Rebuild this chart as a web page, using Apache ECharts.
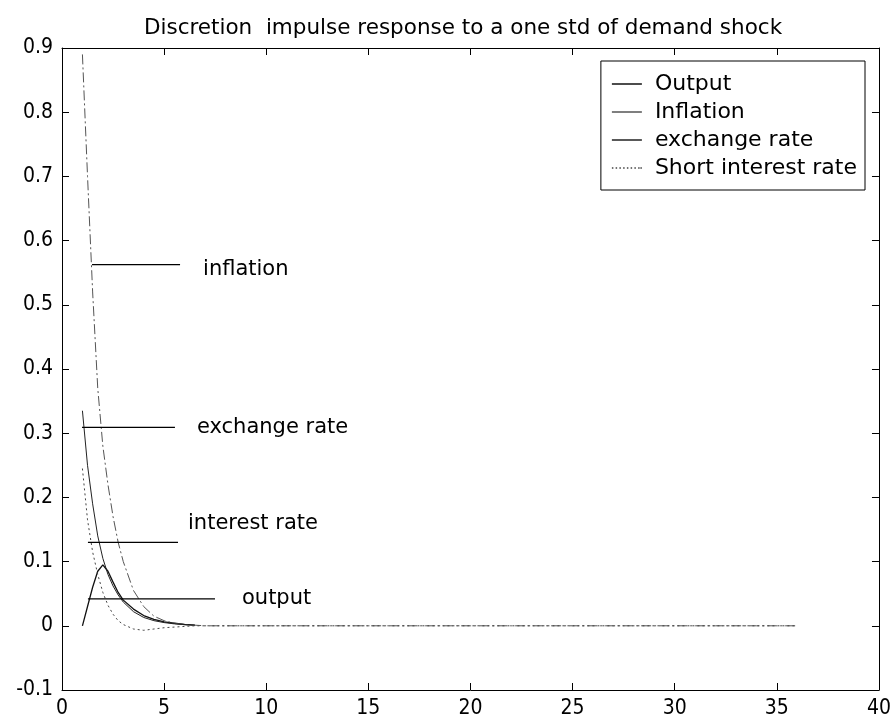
<!DOCTYPE html>
<html><head><meta charset="utf-8">
<script src="https://cdn.jsdelivr.net/npm/echarts/dist/echarts.min.js"></script>
<style>html,body{margin:0;padding:0;background:#fff}#c{width:894px;height:725px}</style>
</head><body><div id="c"></div>
<script>
const titleText = 'Discretion  impulse response to a one std of demand shock';
const seriesNames = ['Output', 'Inflation', 'exchange rate', 'Short interest rate'];
const periods = [1,1.25,1.5,1.75,2,2.25,2.5,2.75,3,3.5,4,4.5,5,5.5,6,6.5,7,
  8,9,10,11,12,13,14,15,16,17,18,19,20,21,22,23,24,25,26,27,28,29,30,31,32,33,34,35,36];
// output and exchange rate are only visible up to about t = 6.5 in the picture
const outputVals = [0,0.03,0.06,0.085,0.095,0.085,0.068,0.052,0.04,0.026,0.016,0.01,0.006,0.004,0.002,0.001];
const inflationVals = [0.89,0.7,0.52,0.37,0.28,0.22,0.17,0.13,0.1,0.055,0.03,0.015,0.008,0.004,0.002,0.001,0,
  0,0,0,0,0,0,0,0,0,0,0,0,0,0,0,0,0,0,0,0,0,0,0,0,0,0,0,0,0];
const exchangeVals = [0.335,0.25,0.19,0.14,0.105,0.08,0.062,0.048,0.037,0.022,0.013,0.008,0.005,0.003,0.002,0.001];
const interestVals = [0.245,0.165,0.115,0.08,0.052,0.032,0.018,0.008,0.002,-0.005,-0.007,-0.005,-0.003,-0.002,-0.001,0,0,
  0,0,0,0,0,0,0,0,0,0,0,0,0,0,0,0,0,0,0,0,0,0,0,0,0,0,0,0,0];
// annotation lines: label text, start x, end x, y level
const annotLabels = ['inflation', 'exchange rate', 'interest rate', 'output'];
const annotStart = [1.47, 0.98, 1.27, 1.27];
const annotEnd = [5.78, 5.53, 5.68, 7.49];
const annotLevel = [0.5625, 0.309, 0.13, 0.042];
const xTicks = [0, 40, 5];
const yTicks = [-0.1, 0.9, 0.1];

const FONT = '"DejaVu Sans", sans-serif';
const FONT_C = '"DejaVu Sans Condensed", "DejaVu Sans", sans-serif';
const chart = echarts.init(document.getElementById('c'), null, {renderer: 'canvas'});
const pairs = v => v.map((y, i) => [periods[i], y]);
const styles = [
  {color: '#111', width: 1.3, type: 'solid'},
  {color: '#555', width: 1, type: [10, 3, 2, 3]},
  {color: '#222', width: 1, type: 'solid'},
  {color: '#444', width: 1, type: [2, 3]}
];
const vals = [outputVals, inflationVals, exchangeVals, interestVals];
const series = seriesNames.map((n, i) => ({
  name: n, type: 'line', data: pairs(vals[i]), symbol: 'none',
  lineStyle: styles[i], itemStyle: {color: styles[i].color}, z: 3, animation: false
}));
const labelOffsets = [[15, 5], [14, 0], [2, -19], [19, 0]];
annotLabels.forEach((lab, i) => {
  series.push({
    name: '_a' + i, type: 'line', symbol: 'none', animation: false,
    data: [[annotStart[i], annotLevel[i]], [annotEnd[i], annotLevel[i]]],
    lineStyle: {color: '#000', width: 1.3}, z: 4,
    endLabel: {show: true, formatter: lab, color: '#000', fontFamily: FONT, fontSize: 21,
      offset: labelOffsets[i]}
  });
});
const solidIcon = 'path://M0,0h40v2h-40z';
const dotIcon = 'path://M0,0h2v2h-2zM5,0h2v2h-2zM10,0h2v2h-2zM15,0h2v2h-2zM20,0h2v2h-2zM25,0h2v2h-2zM30,0h2v2h-2zM35,0h2v2h-2zM38,0h2v2h-2z';
const legendIcons = [solidIcon, solidIcon, solidIcon, dotIcon];
const tickFmt = v => { const r = Math.round(v * 10) / 10; return r === 0 ? '0' : r.toFixed(1); };
const axisCommon = {
  axisLine: {show: true, onZero: false, lineStyle: {color: '#000', width: 1}},
  axisTick: {show: true, inside: true, length: 7, lineStyle: {color: '#000'}},
  splitLine: {show: false}
};
chart.setOption({
  backgroundColor: '#fff',
  animation: false,
  title: {text: titleText, left: 458, top: 12, textAlign: 'center',
    textStyle: {fontFamily: FONT, fontSize: 21.5, fontWeight: 'normal', color: '#000'}},
  legend: {
    data: seriesNames.map((n, i) => ({name: n, icon: legendIcons[i]})),
    orient: 'vertical', right: 29, top: 61,
    backgroundColor: '#fff', borderColor: '#000', borderWidth: 1, borderRadius: 0,
    padding: [12, 8, 11, 11], itemGap: 6, itemWidth: 42, itemHeight: 1.5,
    textStyle: {fontFamily: FONT, fontSize: 22, color: '#000', padding: [0, 0, 0, 2]}
  },
  grid: {left: 62, right: 15, top: 48, bottom: 35, containLabel: false},
  xAxis: [
    Object.assign({type: 'value', min: xTicks[0], max: xTicks[1], interval: xTicks[2], position: 'bottom',
      axisLabel: {fontFamily: FONT_C, fontSize: 21, color: '#000', margin: 8}}, axisCommon),
    Object.assign({type: 'value', min: xTicks[0], max: xTicks[1], interval: xTicks[2], position: 'top',
      axisLabel: {show: false}}, axisCommon)
  ],
  yAxis: [
    Object.assign({type: 'value', min: yTicks[0], max: yTicks[1], interval: yTicks[2], position: 'left',
      axisLabel: {fontFamily: FONT_C, fontSize: 21, color: '#000', margin: 9, formatter: tickFmt}}, axisCommon),
    Object.assign({type: 'value', min: yTicks[0], max: yTicks[1], interval: yTicks[2], position: 'right',
      axisLabel: {show: false}}, axisCommon)
  ],
  series: series
});
</script></body></html>
